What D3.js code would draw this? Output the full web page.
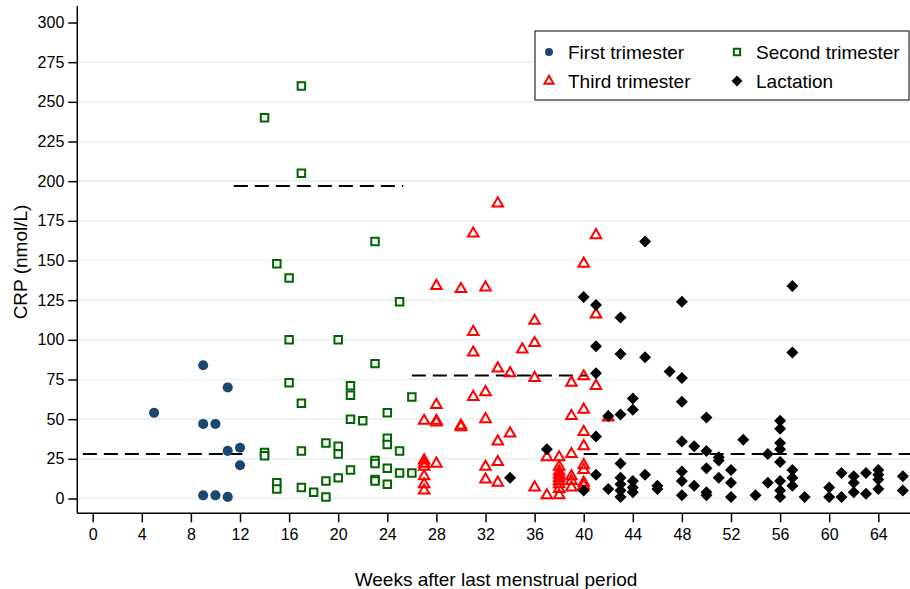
<!DOCTYPE html>
<html>
<head>
<meta charset="utf-8">
<script src="https://cdn.jsdelivr.net/npm/d3@7"></script>
<style>
  body { margin: 0; background: #fff; }
  svg { font-family: "Liberation Sans", Arial, Helvetica, sans-serif; }
</style>
</head>
<body>
<svg id="graph"></svg>
<script>
// week, CRP (nmol/L)
var firstTrimester = [[5,54],[9,84],[9,47],[9,2],[10,47],[10,2],[11,70],[11,30],[11,1],[12,32],[12,21]]

var secondTrimester = [[14,240],[14,29],[14,27],[15,148],[15,10],[15,6],[16,139],[16,100],[16,73],
  [17,260],[17,205],[17,60],[17,30],[17,7],[18,4],[19,35],[19,11],[19,1],[20,100],[20,33],[20,28],[20,13],
  [21,71],[21,65],[21,50],[21,18],[22,49],[23,162],[23,85],[23,24],[23,22],[23,12],[23,11],
  [24,54],[24,38],[24,34],[24,19],[24,9],[25,124],[25,30],[25,16],[26,64],[26,16]]

var thirdTrimester = [[27,49],[27,24],[27,22],[27,20],[27,14],[27,9],[27,5],
  [28,134],[28,59],[28,49],[28,48],[28,22],[30,132],[30,46],[30,45],
  [31,167],[31,105],[31,92],[31,64],[32,133],[32,67],[32,50],[32,20],[32,12],
  [33,186],[33,82],[33,36],[33,23],[33,10],[34,79],[34,41],[35,94],
  [36,112],[36,98],[36,76],[36,7],[37,26],[37,2],
  [38,26],[38,20],[38,17],[38,15],[38,13],[38,11],[38,9],[38,6],[38,2],
  [39,73],[39,52],[39,28],[39,14],[39,11],[39,7],
  [40,148],[40,77],[40,56],[40,42],[40,33],[40,21],[40,18],[40,10],[40,8],
  [41,166],[41,116],[41,71],[42,51]]

var lactation = [[34,13],[37,31],[40,127],[40,5],[41,122],[41,96],[41,79],[41,39],[41,15],
  [42,52],[42,6],[43,114],[43,91],[43,53],[43,22],[43,13],[43,9],[43,5],[43,1],
  [44,63],[44,56],[44,11],[44,7],[44,4],[45,162],[45,89],[45,15],[46,8],[46,6],[47,80],
  [48,124],[48,76],[48,61],[48,36],[48,17],[48,11],[48,2],[49,33],[49,8],
  [50,51],[50,30],[50,19],[50,4],[50,2],[51,26],[51,24],[51,13],[52,18],[52,10],[52,1],
  [53,37],[54,2],[55,28],[55,10],
  [56,49],[56,44],[56,35],[56,31],[56,23],[56,11],[56,5],[56,1],
  [57,134],[57,92],[57,18],[57,13],[57,8],[58,1],[60,7],[60,1],[61,16],[61,1],
  [62,14],[62,10],[62,4],[63,16],[63,3],[64,18],[64,15],[64,12],[64,6],[66,14],[66,5]]

// median lines: from week, to week, value
var medianFirst = [-0.8, 12.2, 28]
var medianSecond = [11.5, 25.3, 197]
var medianThird = [26, 40.3, 77.5]
var medianLactation = [40, 67.5, 28]

var xTicks = d3.range(0, 65, 4)
var yTicks = d3.range(0, 301, 25)
var legendLabels = ["First trimester", "Second trimester", "Third trimester", "Lactation"]

var screen = {width: 910, height: 589}

var svg = d3.select("#graph")
  .attr("width", screen.width)
  .attr("height", screen.height)

var xScale = d3.scaleLinear().domain([0, 64]).range([92.7, 878.3])
var yScale = d3.scaleLinear().domain([0, 300]).range([498.5, 22.5])

var axisX = 77.3, axisY = 513.3

// gridlines
svg.append("g")
  .selectAll("line")
  .data(yTicks.filter(function(d) { return d < 300 }))
  .enter()
  .append("line")
  .attr("x1", axisX)
  .attr("x2", screen.width)
  .attr("y1", function(d) { return yScale(d) })
  .attr("y2", function(d) { return yScale(d) })
  .attr("stroke", "#eaf2f3")
  .attr("stroke-width", 2)

// axes
var yAxis = svg.append("g")
  .attr("transform", "translate(" + axisX + ",0)")
  .call(d3.axisLeft(yScale).tickValues(yTicks).tickSize(9).tickPadding(4))
yAxis.select(".domain").remove()

var xAxis = svg.append("g")
  .attr("transform", "translate(0," + axisY + ")")
  .call(d3.axisBottom(xScale).tickValues(xTicks).tickSize(9).tickPadding(6))
xAxis.select(".domain").remove()

svg.selectAll(".tick text")
  .attr("font-size", 16)
  .attr("fill", "#000")
  .attr("font-family", "Liberation Sans, Arial, sans-serif")
svg.selectAll(".tick line").attr("stroke", "#000").attr("stroke-width", 1.5)

svg.append("line")
  .attr("x1", axisX).attr("x2", axisX)
  .attr("y1", 6).attr("y2", axisY)
  .attr("stroke", "#000").attr("stroke-width", 1.5)
svg.append("line")
  .attr("x1", axisX).attr("x2", screen.width)
  .attr("y1", axisY).attr("y2", axisY)
  .attr("stroke", "#000").attr("stroke-width", 1.5)

// axis titles
svg.append("text")
  .attr("x", 496)
  .attr("y", 586)
  .attr("text-anchor", "middle")
  .attr("font-size", 19)
  .text("Weeks after last menstrual period")

svg.append("text")
  .attr("transform", "translate(27,262) rotate(-90)")
  .attr("text-anchor", "middle")
  .attr("font-size", 19)
  .text("CRP (nmol/L)")

// median lines
var drawMedian = function(m)
{
  svg.append("line")
    .attr("x1", xScale(m[0]))
    .attr("x2", xScale(m[1]))
    .attr("y1", yScale(m[2]))
    .attr("y2", yScale(m[2]))
    .attr("stroke", "#000")
    .attr("stroke-width", 2)
    .attr("stroke-dasharray", "14,7")
}
;[medianFirst, medianSecond, medianThird, medianLactation].forEach(drawMedian)

// markers
var symSquare = d3.symbol().type(d3.symbolSquare).size(56)
var symTriangle = d3.symbol().type(d3.symbolTriangle).size(48)
var symDiamond = d3.symbol().type(d3.symbolSquare).size(72)

var plotPoints = function(data, drawFn, rot)
{
  var g = svg.append("g")
  g.selectAll("path")
    .data(data)
    .enter()
    .append("path")
    .attr("transform", function(d) {
      return "translate(" + xScale(d[0]) + "," + yScale(d[1]) + ")" + (rot ? " rotate(45)" : "")
    })
    .call(drawFn)
}

plotPoints(firstTrimester, function(sel) {
  sel.attr("d", d3.symbol().type(d3.symbolCircle).size(80)).attr("fill", "#1a476f")
})
plotPoints(secondTrimester, function(sel) {
  sel.attr("d", symSquare).attr("fill", "#fff").attr("stroke", "#006400").attr("stroke-width", 2)
})
plotPoints(thirdTrimester, function(sel) {
  sel.attr("d", symTriangle).attr("fill", "none").attr("stroke", "#ff0000").attr("stroke-width", 2)
})
plotPoints(lactation, function(sel) {
  sel.attr("d", symDiamond).attr("fill", "#000")
}, true)

// legend
var legend = svg.append("g")
legend.append("rect")
  .attr("x", 535).attr("y", 31)
  .attr("width", 374).attr("height", 69)
  .attr("fill", "#fff").attr("stroke", "#000").attr("stroke-width", 1)

var legendPos = [[549, 52], [737, 52], [549, 81], [737, 81]]
var legendSym = [
  function(s) { s.attr("d", d3.symbol().type(d3.symbolCircle).size(50)).attr("fill", "#1a476f") },
  function(s) { s.attr("d", d3.symbol().type(d3.symbolSquare).size(40)).attr("fill", "#fff").attr("stroke", "#006400").attr("stroke-width", 2) },
  function(s) { s.attr("d", d3.symbol().type(d3.symbolTriangle).size(36)).attr("fill", "none").attr("stroke", "#ff0000").attr("stroke-width", 2) },
  function(s) { s.attr("d", d3.symbol().type(d3.symbolSquare).size(60)).attr("fill", "#000") }
]
legendLabels.forEach(function(label, i)
{
  legend.append("path")
    .attr("transform", "translate(" + legendPos[i][0] + "," + legendPos[i][1] + ")" + (i == 3 ? " rotate(45)" : ""))
    .call(legendSym[i])
  legend.append("text")
    .attr("x", legendPos[i][0] + 19)
    .attr("y", legendPos[i][1] + 7)
    .attr("font-size", 19)
    .text(label)
})
</script>
</body>
</html>
